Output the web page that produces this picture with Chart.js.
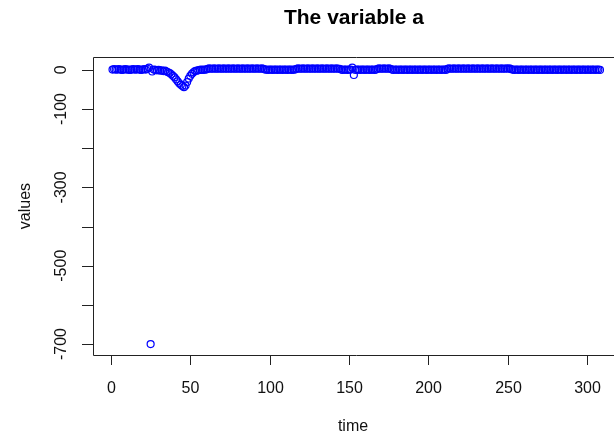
<!DOCTYPE html>
<html>
<head>
<meta charset="utf-8">
<script src="https://cdn.jsdelivr.net/npm/chart.js@4.4.1/dist/chart.umd.min.js"></script>
<style>
  html, body { margin: 0; padding: 0; background: #fff; overflow: hidden; }
  #wrap { width: 625px; height: 435px; }
</style>
</head>
<body>
<div id="wrap"><canvas id="chart" width="625" height="435"></canvas></div>
<script>
// values of "a", one per time step (time = 1..n)
const values = [
  1, 2, 1, 1, 2, 1, 0, 1, 2, 1,
  1, 0, 1, 2, 1, 1, 2, 1, 0, 1,
  2, 1, 3, 6, -700, -4, 1, 0, -1, 0,
  -2, -1, -3, -2, -4, -6, -8, -11, -15, -19,
  -24, -29, -34, -38, -41, -44, -40, -31, -22, -15,
  -10, -6, -3, -2, -1, 0, 1, 0, 1, 1,
  3, 4, 3, 3, 4, 3, 3, 4, 3, 3,
  4, 3, 3, 4, 3, 3, 4, 3, 3, 4,
  3, 3, 4, 3, 3, 4, 3, 3, 4, 3,
  3, 4, 3, 3, 4, 3, 1, 1, 0, 1,
  1, 0, 1, 1, 0, 1, 1, 0, 1, 1,
  0, 1, 1, 0, 1, 1, 3, 4, 3, 3,
  4, 3, 3, 4, 3, 3, 4, 3, 3, 4,
  3, 3, 4, 3, 3, 4, 3, 3, 4, 3,
  3, 4, 3, 3, 1, 0, 1, 1, 0, 1,
  1, 6, -13, 0, 1, 1, 0, 1, 1, 0,
  1, 1, 0, 1, 1, 0, 1, 3, 4, 3,
  3, 4, 3, 3, 4, 3, 1, 0, 1, 1,
  0, 1, 1, 0, 1, 1, 0, 1, 1, 0,
  1, 1, 0, 1, 1, 0, 1, 1, 0, 1,
  1, 0, 1, 1, 0, 1, 1, 0, 1, 1,
  0, 3, 4, 3, 3, 4, 3, 3, 4, 3,
  3, 4, 3, 3, 4, 3, 3, 4, 3, 3,
  4, 3, 3, 4, 3, 3, 4, 3, 3, 4,
  3, 3, 4, 3, 3, 4, 3, 3, 4, 3,
  4, 2, 1, 0, 1, 1, 0, 1, 1, 0,
  1, 1, 0, 1, 1, 0, 1, 1, 0, 1,
  1, 0, 1, 1, 0, 1, 1, 0, 1, 1,
  0, 1, 1, 0, 1, 1, 0, 1, 1, 0,
  1, 1, 0, 1, 1, 0, 1, 1, 0, 1,
  1, 0, 1, 1, 0, 1, 1, 0
];
const xTicks = [0, 50, 100, 150, 200, 250, 300];
const yTicks = [0, -100, -200, -300, -400, -500, -600, -700];
const yLabels = [0, -100, -300, -500, -700];

const points = values.map((v, i) => ({ x: i + 1, y: v }));
const FONT = '"Liberation Sans", Arial, Helvetica, sans-serif';

// R base-graphics style frame, ticks and texts
const rAxes = {
  id: 'rAxes',
  afterDraw(chart) {
    const { ctx, chartArea: a, scales } = chart;
    const xs = scales.x, ys = scales.y;
    ctx.save();
    ctx.strokeStyle = '#222';
    ctx.lineWidth = 1;
    ctx.beginPath();
    ctx.rect(Math.round(a.left) + 0.5, Math.round(a.top) + 0.5, Math.round(a.right - a.left), Math.round(a.bottom - a.top));
    ctx.stroke();

    ctx.fillStyle = '#111';
    ctx.font = '16px ' + FONT;
    ctx.textAlign = 'center';
    ctx.textBaseline = 'middle';
    // x axis
    xTicks.forEach(t => {
      const px = Math.round(xs.getPixelForValue(t)) + 0.5;
      ctx.beginPath();
      ctx.moveTo(px, a.bottom);
      ctx.lineTo(px, a.bottom + 10);
      ctx.stroke();
      ctx.fillText(String(t), px, a.bottom + 34);
    });
    // y axis
    yTicks.forEach(t => {
      const py = Math.round(ys.getPixelForValue(t)) + 0.5;
      ctx.beginPath();
      ctx.moveTo(a.left, py);
      ctx.lineTo(a.left - 11, py);
      ctx.stroke();
    });
    yLabels.forEach(t => {
      const py = ys.getPixelForValue(t);
      ctx.save();
      ctx.translate(a.left - 31, py);
      ctx.rotate(-Math.PI / 2);
      ctx.fillText(String(t), 0, 0);
      ctx.restore();
    });
    // axis titles
    ctx.fillText('time', 353, 427);
    ctx.save();
    ctx.translate(26, (a.top + a.bottom) / 2);
    ctx.rotate(-Math.PI / 2);
    ctx.fillText('values', 0, 0);
    ctx.restore();
    // main title
    ctx.font = 'bold 21px ' + FONT;
    ctx.fillStyle = '#000';
    ctx.fillText('The variable a', 354, 18);
    ctx.restore();
  }
};

new Chart(document.getElementById('chart'), {
  type: 'scatter',
  data: {
    datasets: [{
      data: points,
      showLine: false,
      pointStyle: 'circle',
      pointRadius: 3.5,
      pointBorderWidth: 1.2,
      borderColor: '#0000ff',
      backgroundColor: 'rgba(0,0,0,0)',
      clip: false
    }]
  },
  options: {
    responsive: false,
    animation: false,
    events: [],
    layout: { padding: { left: 93, top: 57, right: 6, bottom: 80 } },
    plugins: { legend: { display: false }, tooltip: { enabled: false } },
    scales: {
      x: { type: 'linear', min: -11.3, max: 320, display: false },
      y: { type: 'linear', min: -728, max: 33, display: false }
    }
  },
  plugins: [rAxes]
});
</script>
</body>
</html>
